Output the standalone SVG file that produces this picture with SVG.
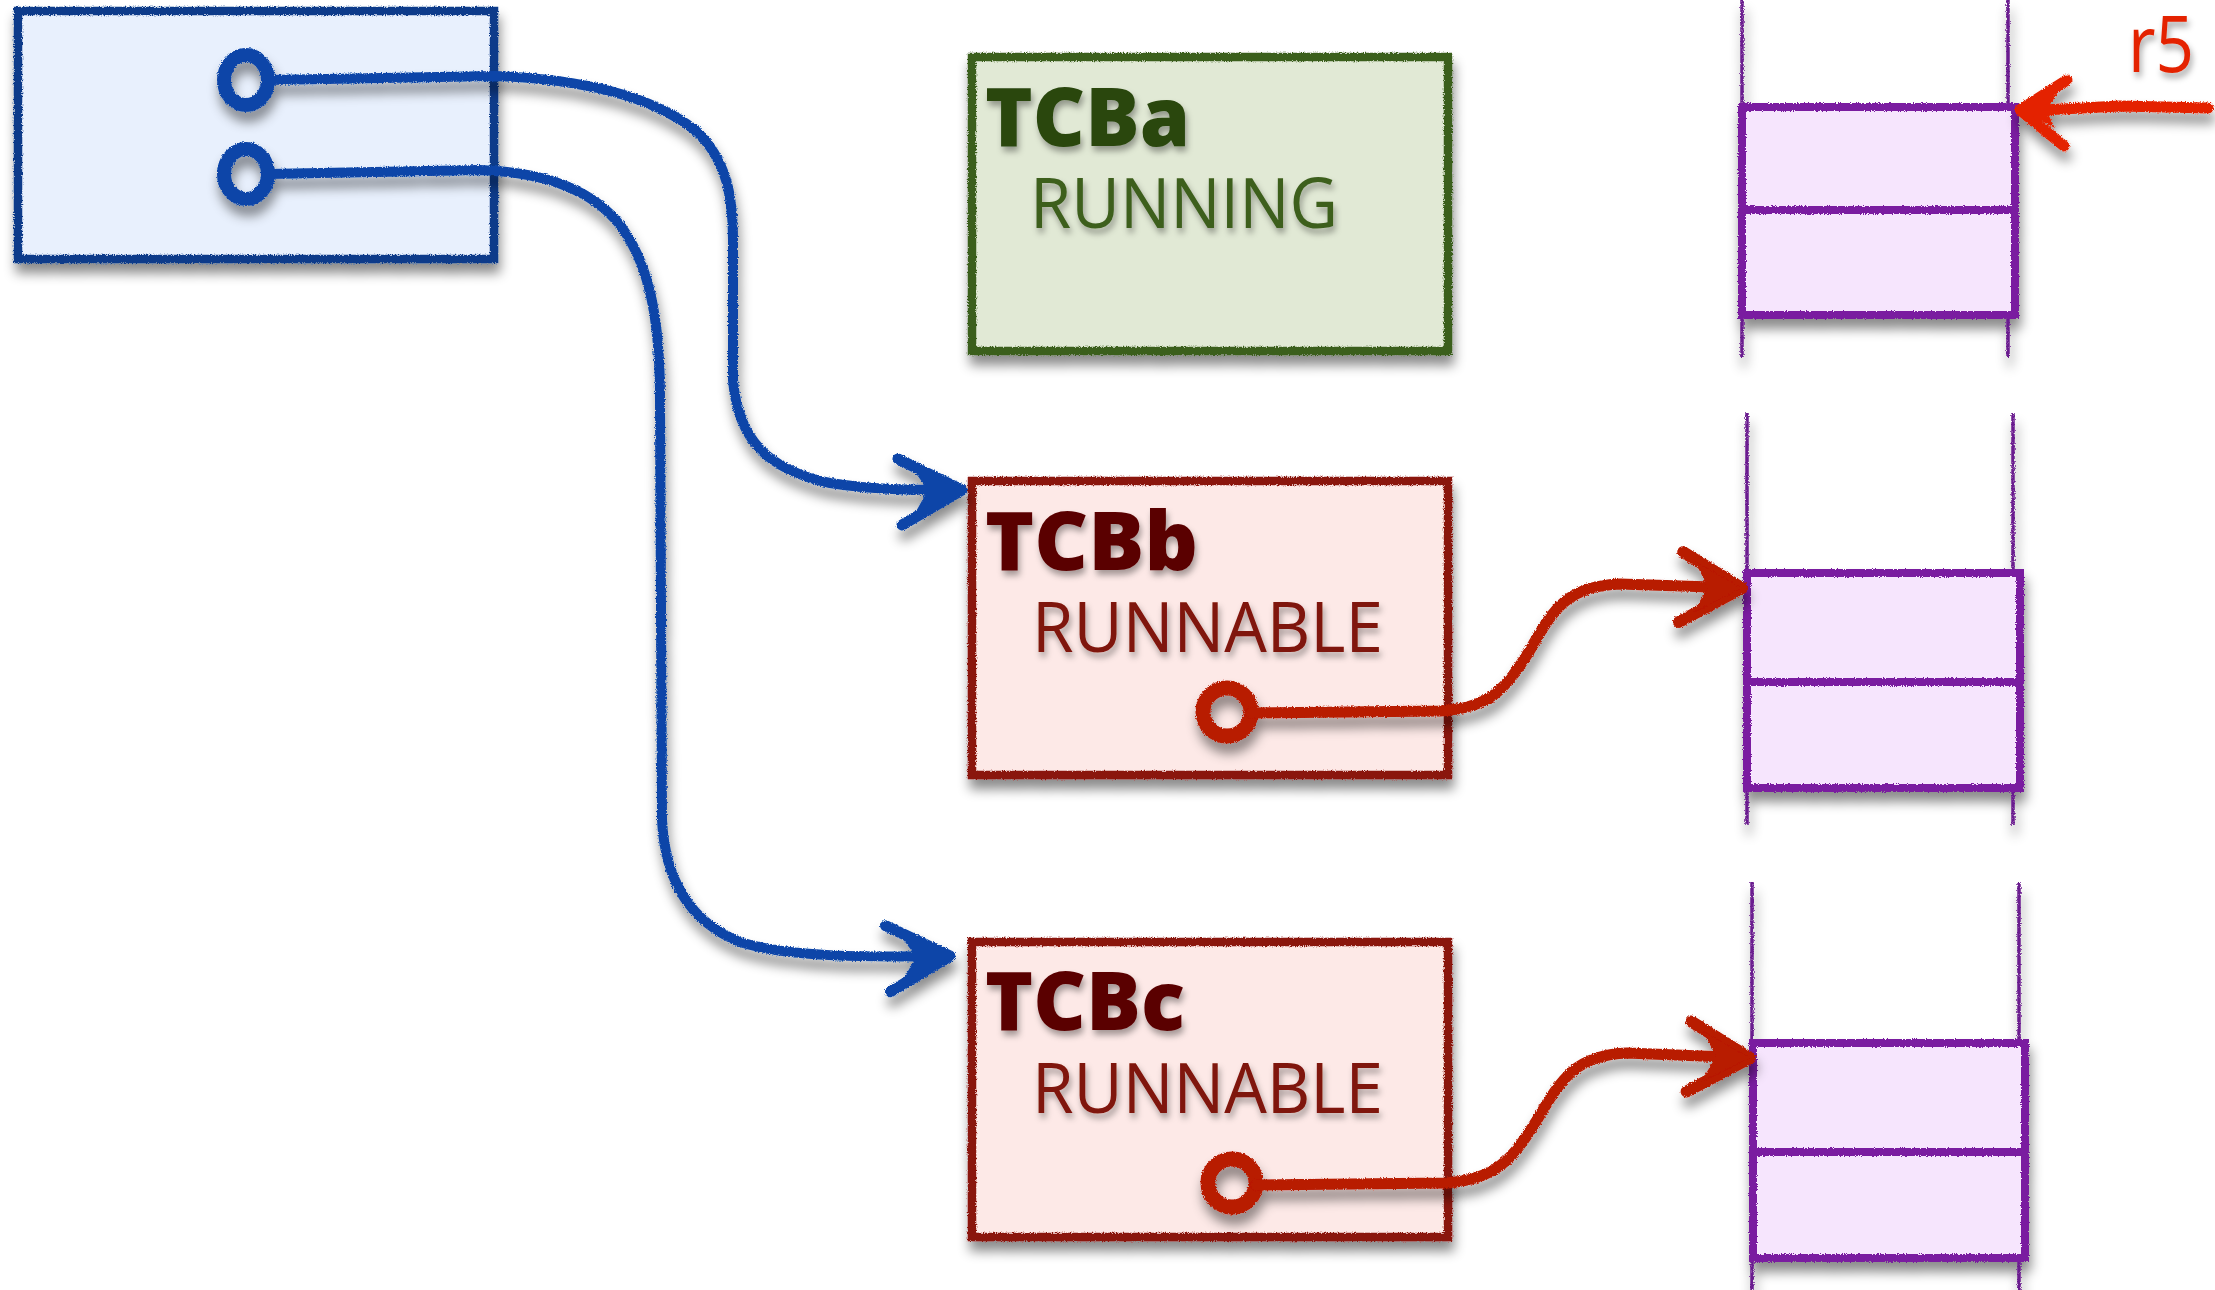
<svg xmlns="http://www.w3.org/2000/svg" width="2215" height="1290" viewBox="0 0 2215 1290">
<style>
.bx{stroke-width:8.5;stroke-linejoin:miter}
.blue{fill:#e8f0fd;stroke:#0d3a8a}
.green{fill:#e1e9d5;stroke:#3b5e1e}
.red{fill:#fde9e7;stroke:#8a1308}
.stk{fill:#f6e5fd;stroke:#7a1fa0;stroke-width:8}
.rail{fill:none;stroke:#6b1a8f;stroke-width:3.5}
.cb{fill:none;stroke:#0a45a8;stroke-width:10;stroke-linecap:round;stroke-linejoin:round}
.cr{fill:none;stroke:#b81a00;stroke-width:11;stroke-linecap:round;stroke-linejoin:round}
.t1{font-family:"Open Sans","Noto Sans",sans-serif;font-weight:800;font-size:82px}
.t2{font-family:"Open Sans","Noto Sans",sans-serif;font-weight:400;font-size:70px}
</style>
<defs>
<filter id="sh" x="-10%" y="-10%" width="125%" height="135%">
<feTurbulence type="fractalNoise" baseFrequency="0.9" numOctaves="2" seed="3" result="n"/>
<feDisplacementMap in="SourceGraphic" in2="n" scale="3.5" xChannelSelector="R" yChannelSelector="G" result="r"/>
<feGaussianBlur in="r" stdDeviation="6" result="b"/>
<feOffset in="b" dx="2" dy="10" result="o"/>
<feColorMatrix in="o" type="matrix" values="0 0 0 0 0  0 0 0 0 0  0 0 0 0 0  0 0 0 0.45 0" result="s"/>
<feMerge><feMergeNode in="s"/><feMergeNode in="r"/></feMerge>
</filter>
<filter id="tsh" x="-10%" y="-20%" width="120%" height="150%">
<feGaussianBlur in="SourceAlpha" stdDeviation="3"/>
<feOffset dx="2" dy="5" result="o"/>
<feColorMatrix in="o" type="matrix" values="0 0 0 0 0  0 0 0 0 0  0 0 0 0 0  0 0 0 0.35 0" result="s"/>
<feMerge><feMergeNode in="s"/><feMergeNode in="SourceGraphic"/></feMerge>
</filter>
<marker id="ab" markerUnits="userSpaceOnUse" markerWidth="200" markerHeight="200" refX="0" refY="0" viewBox="-100 -100 200 200" orient="auto" overflow="visible">
<path d="M -64 -31 L 0 0 L -60 35" fill="none" stroke="#0a45a8" stroke-width="11" stroke-linecap="round" stroke-linejoin="round"/>
<path d="M -50 -22 L 0 0 L -48 25 L -34 0 Z" fill="#0a45a8"/>
</marker>
<marker id="ar" markerUnits="userSpaceOnUse" markerWidth="200" markerHeight="200" refX="0" refY="0" viewBox="-100 -100 200 200" orient="auto" overflow="visible">
<path d="M -60 -34 L 0 0 L -62 36" fill="none" stroke="#b81a00" stroke-width="12" stroke-linecap="round" stroke-linejoin="round"/>
<path d="M -48 -25 L 0 0 L -48 26 L -34 0 Z" fill="#b81a00"/>
</marker>
</defs>
<rect width="2215" height="1290" fill="#ffffff"/>

<g id="ready-list" filter="url(#sh)">
<rect class="bx blue" x="18" y="11" width="476" height="248"/>
</g>

<g id="tcba" filter="url(#sh)">
<rect class="bx green" x="972" y="57" width="476" height="294"/>
</g>
<g filter="url(#tsh)">
<text class="t1" x="985" y="146" fill="#2a4610" textLength="205" lengthAdjust="spacingAndGlyphs">TCBa</text>
<text class="t2" x="1030" y="228" fill="#3d5e1e" textLength="308" lengthAdjust="spacingAndGlyphs">RUNNING</text>
</g>

<g id="tcbb" filter="url(#sh)">
<rect class="bx red" x="972" y="481" width="476" height="294"/>
</g>
<g filter="url(#tsh)">
<text class="t1" x="985" y="570" fill="#5a0500" textLength="213" lengthAdjust="spacingAndGlyphs">TCBb</text>
<text class="t2" x="1032" y="652" fill="#7f1208" textLength="351" lengthAdjust="spacingAndGlyphs">RUNNABLE</text>
</g>

<g id="tcbc" filter="url(#sh)">
<rect class="bx red" x="972" y="942" width="476" height="295"/>
</g>
<g filter="url(#tsh)">
<text class="t1" x="985" y="1030" fill="#5a0500" textLength="200" lengthAdjust="spacingAndGlyphs">TCBc</text>
<text class="t2" x="1032" y="1113" fill="#7f1208" textLength="351" lengthAdjust="spacingAndGlyphs">RUNNABLE</text>
</g>

<g id="stack-a" filter="url(#sh)">
<path class="rail" d="M 1742 0 L 1742 357 M 2008 0 L 2008 357"/>
<rect class="stk" x="1742" y="107" width="273" height="103"/>
<rect class="stk" x="1742" y="210" width="273" height="105"/>
</g>

<g id="stack-b" filter="url(#sh)">
<path class="rail" d="M 1747 413 L 1747 825 M 2013 413 L 2013 825"/>
<rect class="stk" x="1747" y="573" width="273" height="109"/>
<rect class="stk" x="1747" y="682" width="273" height="106"/>
</g>

<g id="stack-c" filter="url(#sh)">
<path class="rail" d="M 1752 882 L 1752 1290 M 2019 882 L 2019 1290"/>
<rect class="stk" x="1753" y="1043" width="272" height="109"/>
<rect class="stk" x="1753" y="1152" width="272" height="106"/>
</g>

<g id="r5" filter="url(#tsh)">
<text x="2128" y="72" font-family="Open Sans, Noto Sans, sans-serif" font-size="78" fill="#e42400" textLength="66" lengthAdjust="spacingAndGlyphs">r5</text>
</g>

<g id="connectors" filter="url(#sh)">
<ellipse cx="246" cy="80" rx="22" ry="25" fill="none" stroke="#0a45a8" stroke-width="14"/>
<ellipse cx="246" cy="174" rx="22" ry="25" fill="none" stroke="#0a45a8" stroke-width="14"/>
<path class="cb" marker-end="url(#ab)" d="M 268 80 L 495 76 C 580 79, 650 95, 695 130 C 728 160, 733 200, 733 240 L 733 380 C 738 440, 768 470, 830 483 C 880 491, 930 490, 962 490"/>
<path class="cb" marker-end="url(#ab)" d="M 268 174 L 480 170 C 540 172, 590 187, 620 225 C 650 265, 660 320, 660 400 L 662 820 C 665 880, 690 922, 740 942 C 790 958, 870 957, 950 956"/>
<circle cx="1227" cy="712" r="24" fill="none" stroke="#b81a00" stroke-width="15"/>
<circle cx="1232" cy="1183" r="24" fill="none" stroke="#b81a00" stroke-width="15"/>
<path class="cr" marker-end="url(#ar)" d="M 1251 713 L 1440 711 C 1490 708, 1505 690, 1530 650 C 1555 605, 1570 586, 1620 584 L 1742 588"/>
<path class="cr" marker-end="url(#ar)" d="M 1256 1185 L 1445 1183 C 1495 1180, 1512 1160, 1537 1120 C 1562 1077, 1577 1055, 1627 1053 L 1750 1058"/>
<path d="M 2208 108 L 2120 106 L 2024 111" fill="none" stroke="#e42400" stroke-width="11" stroke-linecap="round"/>
<path d="M 2067 80 L 2020 110 L 2064 146" fill="none" stroke="#e42400" stroke-width="11" stroke-linecap="round" stroke-linejoin="round"/>
<path d="M 2058 93 L 2020 110 L 2055 128 L 2046 110 Z" fill="#e42400"/>
</g>
</svg>
